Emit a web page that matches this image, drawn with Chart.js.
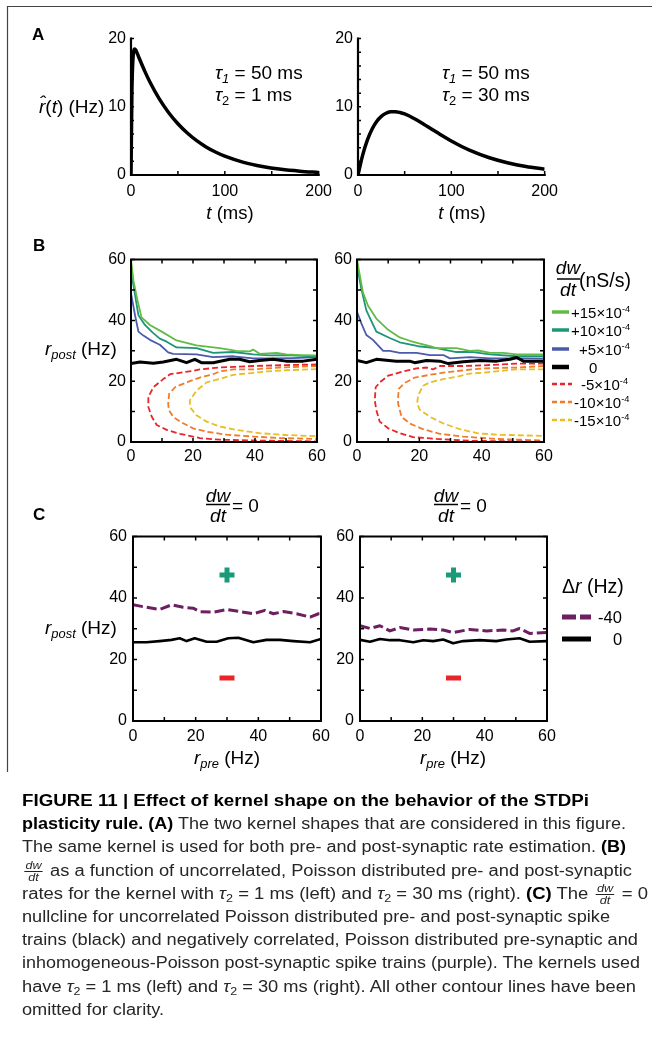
<!DOCTYPE html>
<html><head><meta charset="utf-8">
<script src="https://cdn.jsdelivr.net/npm/chart.js@4.4.1/dist/chart.umd.min.js"></script>
<style>
html,body{margin:0;padding:0;background:#fff;}
body{width:652px;height:1058px;position:relative;overflow:hidden;font-family:"Liberation Sans",Arial,sans-serif;}
canvas{position:absolute;}
.t{position:absolute;line-height:1;white-space:nowrap;color:#000;}
.c{transform:translateX(-50%);}
.b{font-weight:bold;}
sub{font-size:0.68em;vertical-align:-0.32em;line-height:0;}
sup{font-size:0.62em;vertical-align:0.6em;line-height:0;}
.cap{position:absolute;left:22px;white-space:nowrap;font-size:16px;line-height:24px;height:24px;color:#262626;transform-origin:0 50%;}
.cap b{color:#000;}
.if{display:inline-flex;flex-direction:column;align-items:center;vertical-align:middle;font-style:italic;font-size:11px;line-height:1;margin:0 2px;}
.if span:first-child{border-bottom:1px solid #222;padding:0 1px;}
</style></head><body>

<canvas id="aL" width="248" height="176" style="left:91px;top:24px"></canvas>
<canvas id="aR" width="247" height="176" style="left:318px;top:24px"></canvas>
<canvas id="bL" width="246" height="222" style="left:91px;top:245px"></canvas>
<canvas id="bR" width="247" height="222" style="left:317px;top:245px"></canvas>
<canvas id="cL" width="248" height="225" style="left:93px;top:521px"></canvas>
<canvas id="cR" width="247" height="225" style="left:320px;top:521px"></canvas>

<svg width="652" height="1058" style="position:absolute;left:0;top:0">
  <path d="M7.5,772 V6.5 H652" fill="none" stroke="#444" stroke-width="1.2"/>
  <line x1="206" x2="230" y1="504.5" y2="504.5" stroke="#000" stroke-width="1.5"/>
  <line x1="434" x2="458" y1="504.5" y2="504.5" stroke="#000" stroke-width="1.5"/>
  <line x1="557" x2="580" y1="279" y2="279" stroke="#000" stroke-width="1.5"/>
  <line x1="552" x2="569" y1="312" y2="312" stroke="#62bb46" stroke-width="3.5"/>
  <line x1="552" x2="569" y1="330" y2="330" stroke="#1d9677" stroke-width="3.5"/>
  <line x1="552" x2="569" y1="349" y2="349" stroke="#4b5aab" stroke-width="3.5"/>
  <line x1="552" x2="569" y1="367" y2="367" stroke="#000" stroke-width="4.5"/>
  <line x1="552" x2="572" y1="384" y2="384" stroke="#e8252a" stroke-width="2.5" stroke-dasharray="5 3"/>
  <line x1="552" x2="572" y1="402" y2="402" stroke="#f07b2b" stroke-width="2.5" stroke-dasharray="5 3"/>
  <line x1="552" x2="572" y1="420" y2="420" stroke="#e6be25" stroke-width="2.5" stroke-dasharray="5 3"/>
  <line x1="562" x2="591" y1="617" y2="617" stroke="#6d1f61" stroke-width="5" stroke-dasharray="14 4"/>
  <line x1="562" x2="591" y1="639" y2="639" stroke="#000" stroke-width="5"/>
</svg>

<div class="t b" style="left:32px;top:25.5px;font-size:17px">A</div>
<div class="t b" style="left:33px;top:236.5px;font-size:17px">B</div>
<div class="t b" style="left:33px;top:505.5px;font-size:17px">C</div>

<div class="t" style="left:39px;top:96.5px;font-size:19px"><i>r&#770;</i>(<i>t</i>) (Hz)</div>
<div class="t" style="left:215px;top:62.5px;font-size:19px"><i>τ<sub>1</sub></i> = 50 ms</div>
<div class="t" style="left:215px;top:84.5px;font-size:19px"><i>τ</i><sub>2</sub> = 1 ms</div>
<div class="t" style="left:442px;top:62.5px;font-size:19px"><i>τ<sub>1</sub></i> = 50 ms</div>
<div class="t" style="left:442px;top:84.5px;font-size:19px"><i>τ</i><sub>2</sub> = 30 ms</div>
<div class="t c" style="left:230px;top:204px;font-size:18.5px"><i>t</i> (ms)</div>
<div class="t c" style="left:462px;top:204px;font-size:18.5px"><i>t</i> (ms)</div>

<div class="t" style="left:45px;top:338.5px;font-size:19px"><i>r<sub>post</sub></i> (Hz)</div>
<div class="t c" style="left:568px;top:258px;font-size:19px"><i>dw</i></div>
<div class="t c" style="left:568px;top:280px;font-size:19px"><i>dt</i></div>
<div class="t" style="left:579px;top:270.5px;font-size:19.5px">(nS/s)</div>
<div class="t" style="left:571px;top:304.5px;font-size:15px">+15×10<sup>-4</sup></div>
<div class="t" style="left:571px;top:322.5px;font-size:15px">+10×10<sup>-4</sup></div>
<div class="t" style="left:579px;top:341.5px;font-size:15px">+5×10<sup>-4</sup></div>
<div class="t" style="left:589px;top:359.5px;font-size:15px">0</div>
<div class="t" style="left:581px;top:376.5px;font-size:15px">-5×10<sup>-4</sup></div>
<div class="t" style="left:574px;top:394.5px;font-size:15px">-10×10<sup>-4</sup></div>
<div class="t" style="left:574px;top:412.5px;font-size:15px">-15×10<sup>-4</sup></div>

<div class="t c" style="left:218px;top:486px;font-size:19px"><i>dw</i></div>
<div class="t c" style="left:218px;top:506px;font-size:19px"><i>dt</i></div>
<div class="t" style="left:232px;top:495.5px;font-size:19px">= 0</div>
<div class="t c" style="left:446px;top:486px;font-size:19px"><i>dw</i></div>
<div class="t c" style="left:446px;top:506px;font-size:19px"><i>dt</i></div>
<div class="t" style="left:460px;top:495.5px;font-size:19px">= 0</div>
<div class="t" style="left:45px;top:617.5px;font-size:19px"><i>r<sub>post</sub></i> (Hz)</div>
<div class="t c" style="left:227px;top:747.5px;font-size:19px"><i>r<sub>pre</sub></i> (Hz)</div>
<div class="t c" style="left:453px;top:747.5px;font-size:19px"><i>r<sub>pre</sub></i> (Hz)</div>
<div class="t" style="left:562px;top:576.5px;font-size:19.5px">Δ<i>r</i> (Hz)</div>
<div class="t" style="left:598px;top:609px;font-size:16.5px">-40</div>
<div class="t" style="left:613px;top:631px;font-size:16.5px">0</div>

<div class="cap" data-w="567" style="top:789px"><b>FIGURE 11 | Effect of kernel shape on the behavior of the STDPi</b></div>
<div class="cap" data-w="604" style="top:812.2px"><b>plasticity rule. (A)</b> The two kernel shapes that are considered in this figure.</div>
<div class="cap" data-w="604" style="top:835.4px">The same kernel is used for both pre- and post-synaptic rate estimation. <b>(B)</b></div>
<div class="cap" data-w="610" style="top:858.6px"><span class="if"><span>dw</span><span>dt</span></span> as a function of uncorrelated, Poisson distributed pre- and post-synaptic</div>
<div class="cap" data-w="626" style="top:881.8px">rates for the kernel with <i>τ</i><sub>2</sub> = 1 ms (left) and <i>τ</i><sub>2</sub> = 30 ms (right). <b>(C)</b> The <span class="if"><span>dw</span><span>dt</span></span> = 0</div>
<div class="cap" data-w="588" style="top:905px">nullcline for uncorrelated Poisson distributed pre- and post-synaptic spike</div>
<div class="cap" data-w="616" style="top:928.2px">trains (black) and negatively correlated, Poisson distributed pre-synaptic and</div>
<div class="cap" data-w="618" style="top:951.4px">inhomogeneous-Poisson post-synaptic spike trains (purple). The kernels used</div>
<div class="cap" data-w="614" style="top:974.6px">have <i>τ</i><sub>2</sub> = 1 ms (left) and <i>τ</i><sub>2</sub> = 30 ms (right). All other contour lines have been</div>
<div class="cap" data-w="142" style="top:997.8px">omitted for clarity.</div>

<script>
// ---------- DATA ----------
// Panel A: kernels (t in ms, rate in Hz)
const aLeftT  = [0, 1, 2, 3, 4, 5, 6, 8, 10, 15, 20, 30, 40, 50, 60, 70, 80, 90, 100, 120, 140, 160, 180, 200];
const aLeftR  = [0, 12.5, 16.85, 18.21, 18.47, 18.33, 18.05, 17.38, 16.71, 15.12, 13.68, 11.2, 9.17, 7.51, 6.15, 5.03, 4.12, 3.37, 2.76, 1.85, 1.24, 0.83, 0.56, 0.37];
const aRightT = [0, 5, 10, 15, 20, 25, 30, 35, 40, 45, 50, 60, 70, 80, 90, 100, 110, 120, 140, 160, 180, 200];
const aRightR = [0, 2.92, 5.11, 6.72, 7.85, 8.6, 9.05, 9.26, 9.29, 9.17, 8.95, 8.29, 7.48, 6.62, 5.78, 4.98, 4.26, 3.62, 2.57, 1.8, 1.24, 0.85];
const aXTicks = [0, 100, 200];
const aYTicks = [0, 10, 20];
const aXMarks = [0, 50, 100, 150, 200];
const aYMarks = [0, 2, 4, 6, 8, 10, 12, 14, 16, 18, 20];

// Panel B left (tau2 = 1 ms): contours, x = r_pre, y = r_post
const bL_p15_x = [0, 0.8, 2, 3.4, 6.1, 9.9, 14.7, 21.1, 28.6, 34, 38.3, 39.4, 41.5, 47, 50, 55, 60];
const bL_p15_y = [60, 53, 47, 41, 38.5, 36.3, 33.4, 31.8, 30.9, 30, 29.8, 30.4, 29, 29.3, 28.8, 28.6, 28.5];
const bL_p10_x = [0, 0.7, 2.4, 4.5, 7, 9.3, 11.5, 14.7, 21.1, 26.5, 33, 39.4, 44.7, 50, 55, 60];
const bL_p10_y = [57, 52, 41.7, 38.5, 36, 34, 33, 31.1, 30.9, 29.3, 29.6, 28.8, 28.5, 28.6, 28.3, 28.2];
const bL_p5_x  = [0, 1.3, 2.4, 4, 6.1, 9.3, 12, 13.6, 21.1, 26.5, 33, 39.4, 45.8, 52, 60];
const bL_p5_y  = [49, 41.7, 36.3, 35, 33.6, 32, 29.5, 29, 28.8, 27.9, 28.2, 27.5, 27.5, 27.6, 27.9];
const bL_0_x   = [0, 2.9, 7.2, 10.4, 14.7, 17.9, 20.6, 22.7, 26.5, 31.9, 35, 38.3, 41.5, 45.8, 50, 55.5, 60];
const bL_0_y   = [25.8, 26.3, 25.9, 26.3, 27.2, 26.1, 27.2, 26.1, 26.1, 27.2, 27.2, 26.4, 26.8, 27.2, 26.6, 26.6, 27.2];
const bL_m5_x  = [60, 50, 39.4, 33, 28.6, 22.2, 20, 12.6, 10.4, 7.2, 5.6, 5.6, 6.7, 8.3, 11.5, 15.8, 22.2, 28.6, 39.4, 60];
const bL_m5_y  = [25.5, 25.3, 25, 24.7, 24.5, 23.9, 23.4, 22.3, 20.7, 18, 14.8, 11.5, 8.3, 5.6, 4, 2.7, 1.3, 0.75, 0.5, 0.2];
const bL_m10_x = [60, 48, 39.4, 33, 28.6, 26.5, 22.2, 17.9, 14.2, 12.3, 12, 12.2, 13.6, 15.8, 20, 24.4, 30.8, 39.4, 48, 60];
const bL_m10_y = [25, 24.5, 23.9, 23.9, 23.2, 22.3, 21.2, 19.6, 18, 15.8, 12.6, 10.5, 8.3, 6.7, 4.5, 3.4, 2.4, 1.8, 1.3, 1];
const bL_m15_x = [60, 50, 43.7, 37.2, 33, 29.5, 24.4, 21.1, 19, 19, 21.1, 24.4, 28.6, 34, 41.5, 50, 60];
const bL_m15_y = [24, 23.6, 23.2, 22.5, 22.1, 21, 19.6, 16.9, 13.7, 11.5, 8.8, 6.7, 5.1, 4, 2.9, 2.3, 1.9];

// Panel B right (tau2 = 30 ms)
const bR_p15_x = [0, 1.9, 3.5, 6.2, 10, 13.7, 16.9, 19.6, 23.4, 25.5, 31.9, 36.2, 38.9, 42.7, 46.9, 51.2, 60];
const bR_p15_y = [60, 49.2, 44.9, 40.6, 36.9, 34.4, 33.3, 32.5, 31.5, 30.9, 30.9, 30, 30.1, 29.3, 29.3, 28.8, 28.8];
const bR_p10_x = [0, 1.4, 3, 6.2, 10.5, 13.7, 19.6, 25.5, 31.9, 37.3, 42.7, 51.2, 60];
const bR_p10_y = [57.9, 50.3, 43.3, 36.3, 34.2, 32.8, 31.5, 30.9, 29.6, 29.6, 28.8, 28.2, 28.2];
const bR_p5_x  = [0, 1.4, 3, 5.1, 8.4, 10.5, 13.7, 19.1, 23.4, 27.7, 29.8, 36.2, 42.7, 51.2, 60];
const bR_p5_y  = [42.8, 39, 35.2, 33.6, 30, 30, 29.3, 29.3, 28.6, 28.6, 27.5, 27.9, 27.5, 27.5, 27.4];
const bR_0_x   = [0, 3, 6.2, 12.6, 16.9, 18.5, 22.3, 26.6, 29.3, 34.1, 39.4, 44.8, 49.1, 51.2, 53.4, 60];
const bR_0_y   = [26.8, 26.1, 27.2, 26.6, 26.6, 26.1, 26.8, 26.6, 25.8, 26.4, 26.8, 26.6, 27.2, 27.8, 26.6, 26.6];
const bR_m5_x  = [60, 51.2, 40.5, 34.1, 26.6, 24.4, 22.3, 19.1, 14.8, 10, 7.3, 6, 5.7, 6.2, 7.3, 10, 13.7, 18, 25.5, 36.2, 60];
const bR_m5_y  = [25.8, 25.8, 25.2, 25, 25, 23.9, 24.5, 24.2, 23.2, 21.8, 19.6, 18, 13.7, 10.5, 6.7, 4.5, 2.9, 1.6, 1, 0.4, 0.1];
const bR_m10_x = [60, 51.2, 40.5, 34.1, 27.7, 23.4, 18.5, 15.3, 13.4, 13.2, 13.2, 14.3, 16.9, 21.2, 26.6, 34.1, 44.8, 60];
const bR_m10_y = [25, 24.5, 24.2, 23.6, 22.8, 22.1, 21.2, 19.4, 17.5, 14.8, 12.6, 8.3, 6.1, 4.2, 2.7, 1.8, 1, 0.5];
const bR_m15_x = [60, 51.2, 40.5, 36.2, 31.9, 27.7, 23.4, 21.2, 19.6, 19.3, 20.2, 23.4, 27.7, 33, 38.6, 44.8, 60];
const bR_m15_y = [23.9, 23.9, 22.8, 22.5, 21.4, 20.7, 19.6, 18.5, 15.3, 12.6, 10.5, 8.3, 6.1, 4.2, 2.9, 2.4, 2];

// Panel C: dw/dt = 0 nullclines (delta r = -40 Hz and 0 Hz)
const cL_m40_x = [0, 4.3, 8.5, 12.3, 16, 19.2, 21.3, 25.6, 29.9, 34.1, 38.4, 42.1, 44.8, 48, 52.2, 56.5, 59.2, 60];
const cL_m40_y = [37.8, 37, 36.3, 37.8, 37, 36.7, 35.6, 35.4, 36.3, 35.6, 34.9, 36, 34.9, 35.6, 34.9, 33.8, 34.9, 34.9];
const cL_0_x   = [0, 4.3, 8.5, 12.3, 14.9, 17.1, 19.7, 23.5, 26.7, 30.4, 33.6, 38.4, 42.6, 46.9, 51.2, 56.5, 60];
const cL_0_y   = [25.6, 25.6, 26, 26.4, 26.9, 26, 26.9, 25.8, 25.8, 26.9, 27.1, 25.6, 26.4, 26.4, 26, 25.6, 26.7];
const cR_m40_x = [0, 3.2, 6.4, 9.6, 12.8, 17.1, 22.4, 26.7, 29.9, 35.2, 40.6, 45.9, 49.1, 51.2, 54.4, 60];
const cR_m40_y = [31, 30.1, 31, 29.3, 30.4, 29.6, 29.9, 29.6, 28.8, 29.8, 29.3, 29.6, 29.3, 30.1, 28.5, 28.8];
const cR_0_x   = [0, 3.2, 6.4, 9.6, 12.8, 17.1, 20.3, 23.5, 26.7, 29.9, 33.1, 38.4, 43.7, 46.9, 51.2, 54.4, 60];
const cR_0_y   = [26.4, 25.8, 26.7, 26.3, 26.3, 25.6, 26.3, 26, 26.5, 25.3, 26, 26.3, 26, 26.5, 26.9, 25.8, 26];
const signPlus  = [30, 47.5];
const signMinus = [30, 14];

const bcTicks = [0, 20, 40, 60];
const bcMarks = [0, 10, 20, 30, 40, 50, 60];

// ---------- DRAWING ----------
const FONT = '"Liberation Sans", Arial, sans-serif';
const frameTicks = {
  id: 'frameTicks',
  afterDatasetsDraw(chart, args, o) {
    const {ctx, chartArea: a, scales: {x, y}} = chart;
    ctx.save();
    ctx.strokeStyle = '#000';
    ctx.lineWidth = o.tw;
    ctx.beginPath();
    o.xm.forEach(v => {
      const p = x.getPixelForValue(v);
      ctx.moveTo(p, a.bottom); ctx.lineTo(p, a.bottom - o.xtl);
      if (o.box) { ctx.moveTo(p, a.top); ctx.lineTo(p, a.top + o.xtl); }
    });
    o.ym.forEach(v => {
      const p = y.getPixelForValue(v);
      ctx.moveTo(a.left, p); ctx.lineTo(a.left + o.ytl, p);
      if (o.box) { ctx.moveTo(a.right, p); ctx.lineTo(a.right - o.ytl, p); }
    });
    ctx.stroke();
    ctx.lineWidth = o.lw;
    ctx.lineCap = 'square';
    ctx.beginPath();
    if (o.box) {
      ctx.rect(a.left, a.top, a.right - a.left, a.bottom - a.top);
    } else {
      ctx.moveTo(a.left, a.top); ctx.lineTo(a.left, a.bottom); ctx.lineTo(a.right, a.bottom);
    }
    ctx.stroke();
    ctx.restore();
  }
};

function line(xs, ys, color, width, dash, smooth) {
  return {
    data: xs.map((x, i) => ({x: x, y: ys[i]})),
    showLine: true, borderColor: color, borderWidth: width, borderDash: dash || [],
    pointRadius: 0, pointHoverRadius: 0, fill: false, tension: 0,
    cubicInterpolationMode: smooth ? 'monotone' : 'default',
    borderJoinStyle: 'round', borderCapStyle: 'butt'
  };
}
function sign(pt, style, color) {
  return {
    data: [{x: pt[0], y: pt[1]}], showLine: false, pointStyle: style,
    pointRadius: 7.5, pointHoverRadius: 7.5, pointBorderWidth: 5,
    pointBorderColor: color, pointBackgroundColor: color
  };
}
function axis(min, max, ticks, pad, fit) {
  return {
    type: 'linear', min: min, max: max,
    grid: {display: false, drawTicks: false}, border: {display: false},
    ticks: {font: {family: FONT, size: 16}, color: '#000', padding: pad, maxRotation: 0, autoSkip: false},
    afterBuildTicks: s => { s.ticks = ticks.map(v => ({value: v})); },
    afterFit: fit
  };
}
function panel(id, datasets, o) {
  return new Chart(document.getElementById(id), {
    type: 'scatter',
    data: {datasets: datasets},
    options: {
      responsive: false, animation: false, devicePixelRatio: 1,
      layout: {padding: {left: 0, top: 12, right: 20, bottom: 0}},
      plugins: {legend: {display: false}, tooltip: {enabled: false}, frameTicks: o.frame},
      scales: {
        x: axis(o.x[0], o.x[1], o.xt, o.xPad, s => { s.height = o.xH; }),
        y: axis(o.y[0], o.y[1], o.yt, o.yPad, s => { s.width = 40; })
      }
    },
    plugins: [frameTicks]
  });
}

const C = {g: '#62bb46', t: '#1d9677', b: '#4b5aab', k: '#000', r: '#e8252a', o: '#f07b2b', y: '#e6be25', p: '#6d1f61'};
const aFrame = {box: false, lw: 2.2, tw: 1.5, xtl: 4, ytl: 3, xm: aXMarks, ym: aYMarks};
const bFrame = {box: true, lw: 2, tw: 1.5, xtl: 4, ytl: 4, xm: bcMarks, ym: bcMarks};

panel('aL', [line(aLeftT, aLeftR, '#000', 3.5, null, true)],
  {x: [0, 200], y: [0, 20], xt: aXTicks, yt: aYTicks, xPad: 7, yPad: 5, xH: 25, frame: aFrame});
panel('aR', [line(aRightT, aRightR, '#000', 3.5, null, true)],
  {x: [0, 200], y: [0, 20], xt: aXTicks, yt: aYTicks, xPad: 7, yPad: 5, xH: 25, frame: aFrame});

const dash = [6, 3];
panel('bL', [
  line(bL_0_x, bL_0_y, C.k, 3),
  line(bL_p15_x, bL_p15_y, C.g, 1.8),
  line(bL_p10_x, bL_p10_y, C.t, 1.8),
  line(bL_p5_x, bL_p5_y, C.b, 1.8),
  line(bL_m5_x, bL_m5_y, C.r, 1.8, dash),
  line(bL_m10_x, bL_m10_y, C.o, 1.8, dash),
  line(bL_m15_x, bL_m15_y, C.y, 1.8, dash)
], {x: [0, 60], y: [0, 60], xt: bcTicks, yt: bcTicks, xPad: 5, yPad: 5, xH: 25, frame: bFrame});
panel('bR', [
  line(bR_0_x, bR_0_y, C.k, 3),
  line(bR_p15_x, bR_p15_y, C.g, 1.8),
  line(bR_p10_x, bR_p10_y, C.t, 1.8),
  line(bR_p5_x, bR_p5_y, C.b, 1.8),
  line(bR_m5_x, bR_m5_y, C.r, 1.8, dash),
  line(bR_m10_x, bR_m10_y, C.o, 1.8, dash),
  line(bR_m15_x, bR_m15_y, C.y, 1.8, dash)
], {x: [0, 60], y: [0, 60], xt: bcTicks, yt: bcTicks, xPad: 5, yPad: 5, xH: 25, frame: bFrame});

const pdash = [10, 4];
panel('cL', [
  line(cL_0_x, cL_0_y, C.k, 2.6),
  line(cL_m40_x, cL_m40_y, C.p, 3, pdash),
  sign(signPlus, 'cross', '#1b9a7a'),
  sign(signMinus, 'line', '#e8262a')
], {x: [0, 60], y: [0, 60], xt: bcTicks, yt: bcTicks, xPad: 6, yPad: 6, xH: 25, frame: bFrame});
panel('cR', [
  line(cR_0_x, cR_0_y, C.k, 2.6),
  line(cR_m40_x, cR_m40_y, C.p, 3, pdash),
  sign(signPlus, 'cross', '#1b9a7a'),
  sign(signMinus, 'line', '#e8262a')
], {x: [0, 60], y: [0, 60], xt: bcTicks, yt: bcTicks, xPad: 6, yPad: 6, xH: 25, frame: bFrame});

// caption line fitting to the reference line widths
document.querySelectorAll('.cap').forEach(el => {
  const w = el.getBoundingClientRect().width;
  if (w > 0) el.style.transform = 'scaleX(' + (parseFloat(el.dataset.w) / w).toFixed(4) + ')';
});
</script>
</body></html>
